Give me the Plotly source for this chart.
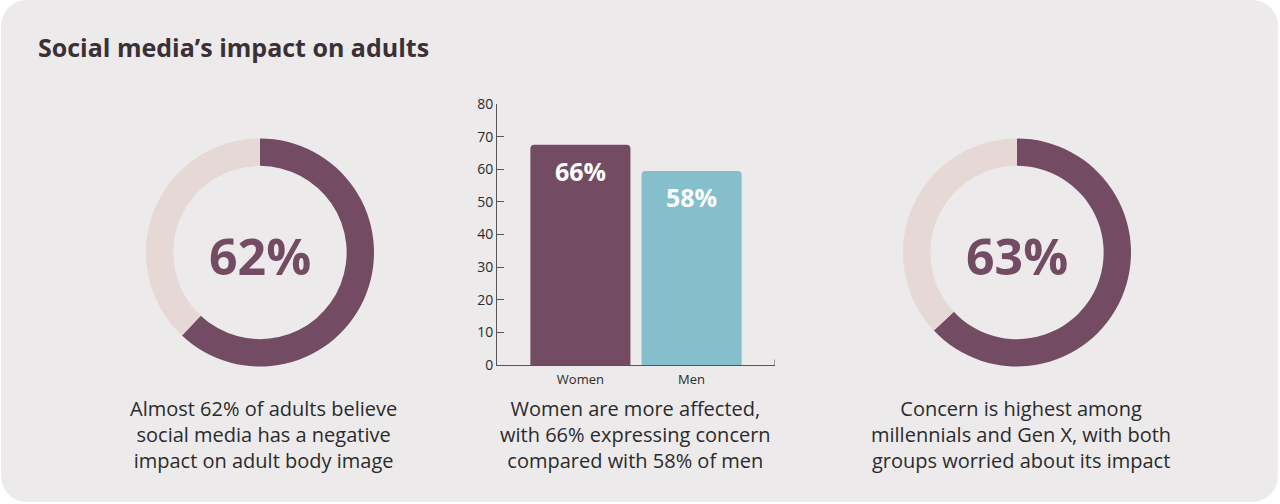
import plotly.graph_objects as go

# ---- data ----
title_text = "Social media’s impact on adults"
donut_labels = ["62%", "63%"]
donut_values = [62, 63]
bar_categories = ["Women", "Men"]
bar_values = [67.5, 59.5]
bar_labels = ["66%", "58%"]
y_ticks = [0, 10, 20, 30, 40, 50, 60, 70, 80]
captions = [
    ["Almost 62% of adults believe", "social media has a negative", "impact on adult body image"],
    ["Women are more affected,", "with 66% expressing concern", "compared with 58% of men"],
    ["Concern is highest among", "millennials and Gen X, with both", "groups worried about its impact"],
]

# ---- style ----
W, H = 1280, 504
BG = "#ECEAEB"
PURPLE = "#734C63"
PINK = "#E6D8D5"
TEAL = "#86BFCC"
TEXT = "#2B2B2B"
TITLE = "#3A3035"
AXIS = "#555555"
FONT = "Open Sans"

def fx(px):
    return px / W

def fy(py):
    return (H - py) / H

fig = go.Figure()

# donuts
donut_centers = [(260, 252.5), (1017, 252.5)]
R = 114
for (cx, cy), v, lab in zip(donut_centers, donut_values, donut_labels):
    fig.add_trace(go.Pie(
        values=[v, 100 - v],
        hole=0.76,
        sort=False,
        direction="clockwise",
        rotation=0,
        marker=dict(colors=[PURPLE, PINK], line=dict(width=0)),
        textinfo="none",
        hoverinfo="skip",
        showlegend=False,
        domain=dict(x=[fx(cx - R), fx(cx + R)], y=[fy(cy + R), fy(cy - R)]),
    ))
    fig.add_annotation(
        x=fx(cx), y=fy(cy + 3), xref="paper", yref="paper",
        text="<b>%s</b>" % lab, showarrow=False,
        xanchor="center", yanchor="middle",
        font=dict(family=FONT, size=50, color=PURPLE),
    )

# bar chart
fig.add_trace(go.Bar(
    x=[0, 1], y=bar_values, width=0.9,
    marker=dict(color=[PURPLE, TEAL], line=dict(width=0), cornerradius=4),
    hoverinfo="skip", showlegend=False,
))
for i, (v, lab) in enumerate(zip(bar_values, bar_labels)):
    fig.add_annotation(
        x=i, y=v, xref="x", yref="y", text="<b>%s</b>" % lab,
        showarrow=False, xanchor="center", yanchor="middle", yshift=-26,
        font=dict(family=FONT, size=25, color="#FFFFFF"),
    )

# captions
caption_x = [263, 635, 1021]
for cxp, lines in zip(caption_x, captions):
    fig.add_annotation(
        x=fx(cxp), y=fy(434), xref="paper", yref="paper",
        text="<br>".join(lines), showarrow=False, xanchor="center", yanchor="middle",
        align="center", font=dict(family=FONT, size=20, color=TEXT),
    )

# title
fig.add_annotation(
    x=fx(36), y=fy(47), xref="paper", yref="paper",
    text="<b>%s</b>" % title_text, showarrow=False,
    xanchor="left", yanchor="middle",
    font=dict(family=FONT, size=25, color=TITLE),
)

# rounded background in paper coordinates (elliptical in paper = circular in px)
x0, x1, y0, y1, r = 1, 1278, 0, 502, 26
k = 0.5523 * r
def P(px, py):
    return f"{fx(px):.6f},{fy(py):.6f}"
path = (
    f"M{P(x0 + r, y0)} L{P(x1 - r, y0)} "
    f"C{P(x1 - r + k, y0)} {P(x1, y0 + r - k)} {P(x1, y0 + r)} "
    f"L{P(x1, y1 - r)} "
    f"C{P(x1, y1 - r + k)} {P(x1 - r + k, y1)} {P(x1 - r, y1)} "
    f"L{P(x0 + r, y1)} "
    f"C{P(x0 + r - k, y1)} {P(x0, y1 - r + k)} {P(x0, y1 - r)} "
    f"L{P(x0, y0 + r)} "
    f"C{P(x0, y0 + r - k)} {P(x0 + r - k, y0)} {P(x0 + r, y0)} Z"
)
fig.add_shape(
    type="path", xref="paper", yref="paper",
    path=path, fillcolor=BG, line=dict(width=0), layer="below",
)

# x-axis right-end tick
fig.add_shape(type="line", xref="x", yref="y", x0=1.75, x1=1.75, y0=0, y1=1.7,
              line=dict(color=AXIS, width=1))

fig.update_layout(
    width=W, height=H,
    margin=dict(l=0, r=0, t=0, b=0, pad=0),
    paper_bgcolor="#FFFFFF", plot_bgcolor="rgba(0,0,0,0)",
    font=dict(family=FONT, color=TEXT),
    xaxis=dict(
        domain=[fx(497), fx(775)], range=[-0.75, 1.75],
        tickmode="array", tickvals=[0, 1], ticktext=bar_categories,
        showgrid=False, zeroline=False, showline=True, linecolor=AXIS, linewidth=1,
        ticks="", tickfont=dict(family=FONT, size=13, color=TEXT),
        ticklabelstandoff=2, automargin=False,
    ),
    yaxis=dict(
        domain=[fy(365), fy(104)], range=[0, 80],
        tickmode="array", tickvals=y_ticks,
        showgrid=False, zeroline=False, showline=True, linecolor=AXIS, linewidth=1,
        ticks="inside", ticklen=7, tickcolor=AXIS, tickwidth=1,
        tickfont=dict(family=FONT, size=14, color=TEXT),
        automargin=False,
    ),
)

fig.write_html("out.html")
